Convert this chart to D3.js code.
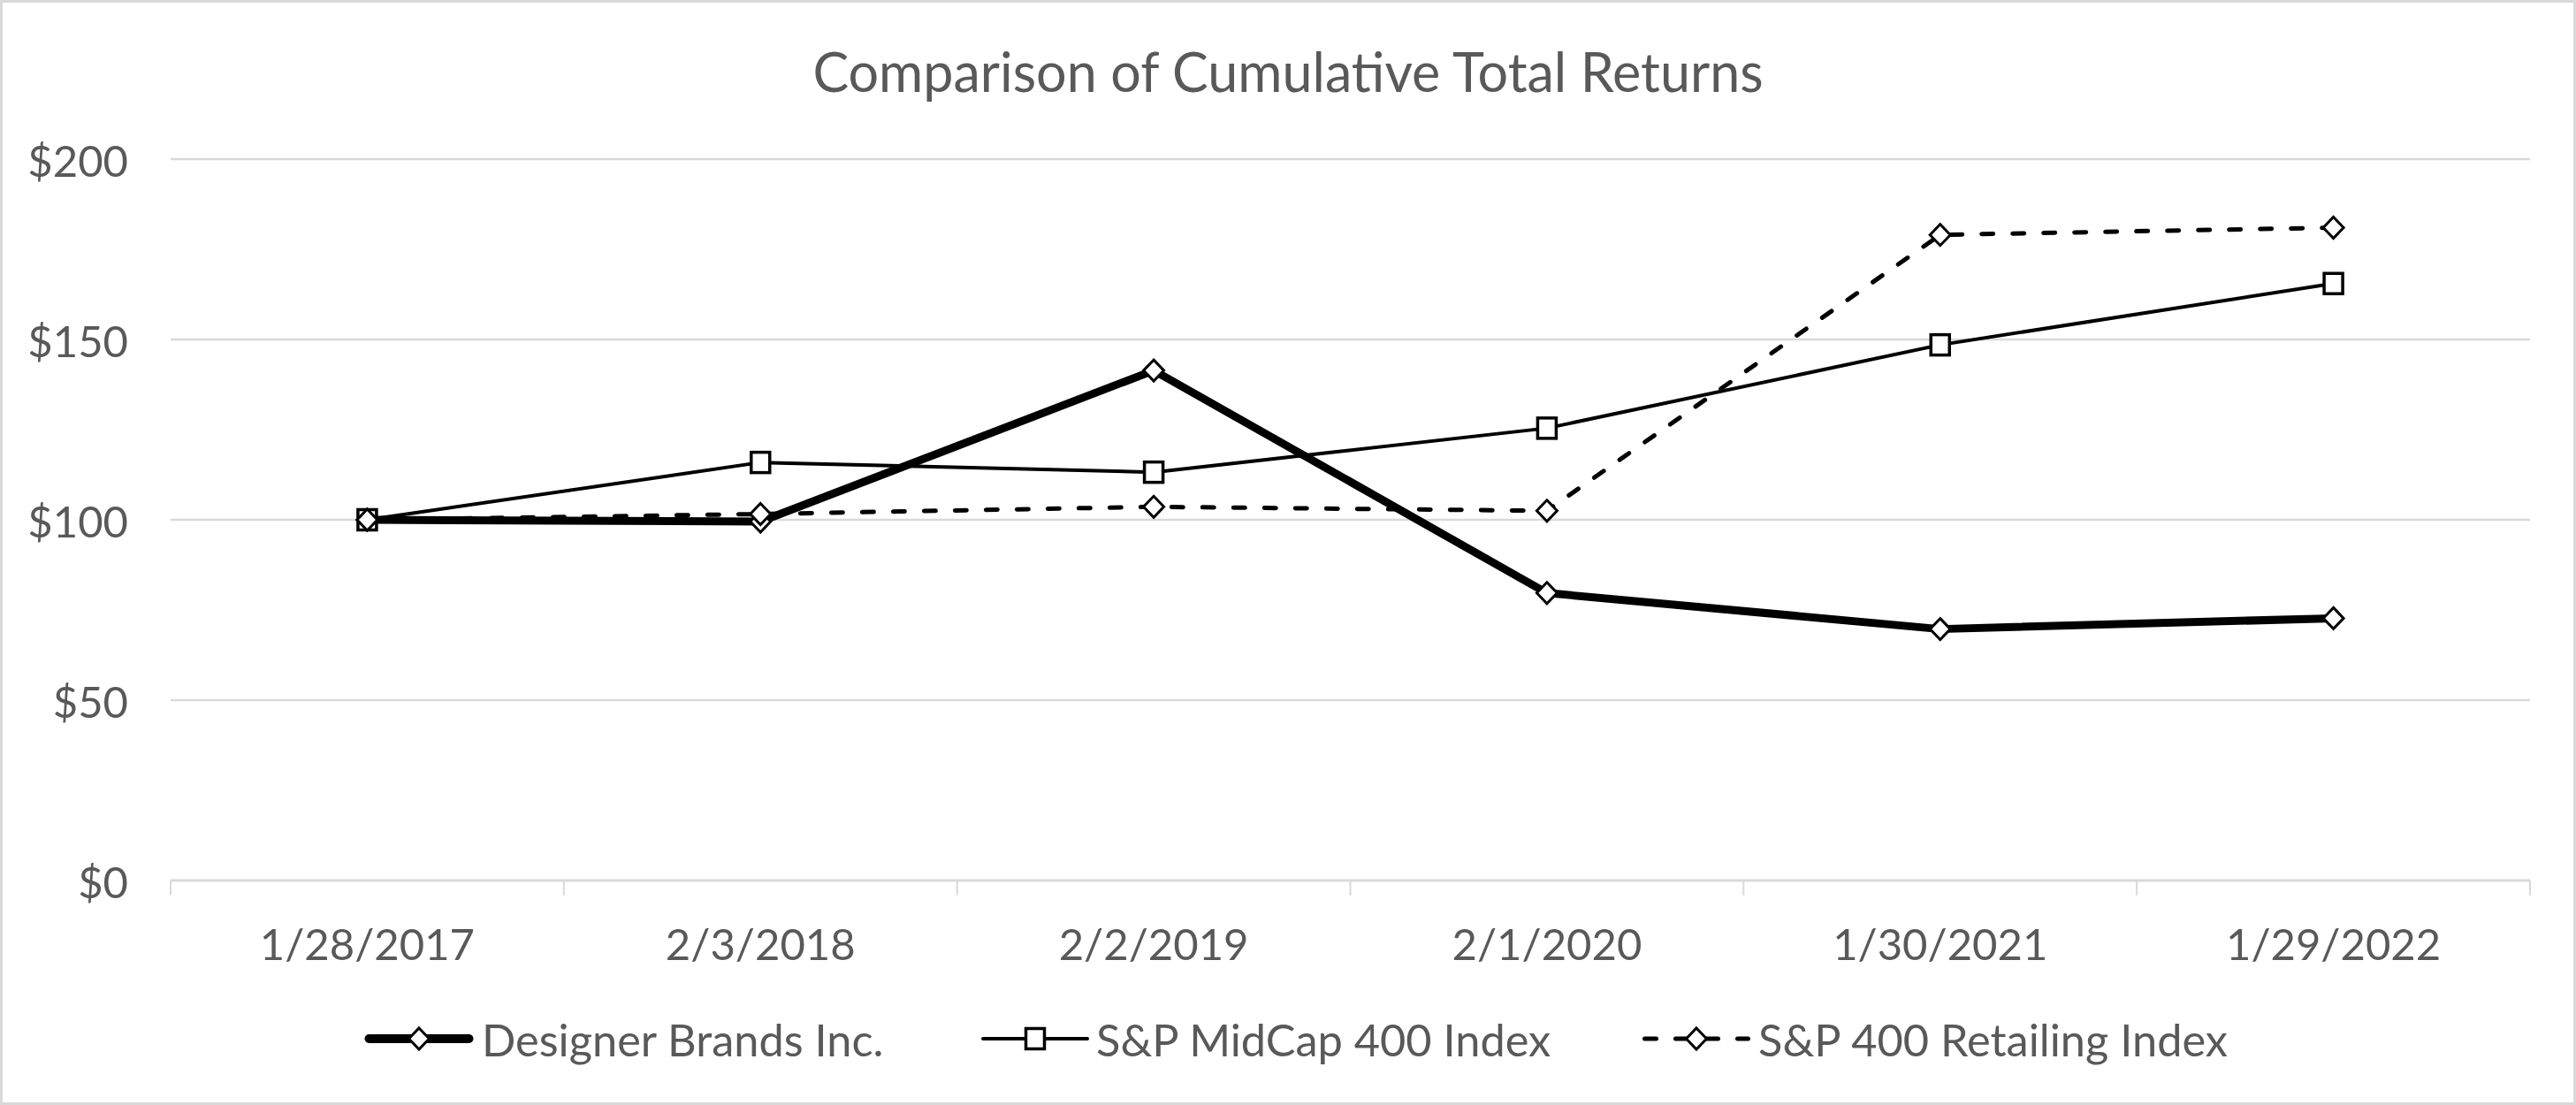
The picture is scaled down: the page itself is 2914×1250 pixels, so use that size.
<!DOCTYPE html>
<html>
<head>
<meta charset="utf-8">
<script src="https://cdn.jsdelivr.net/npm/d3@7"></script>
<style>
  html, body { margin: 0; padding: 0; background: #fff; }
  svg { display: block; }
  text { font-family: Lato, "Open Sans", sans-serif; fill: #595959; }
</style>
</head>
<body>
<svg id="chart" width="2914" height="1250"></svg>
<script>
const title = "Comparison of Cumulative Total Returns";
const categories = ["1/28/2017", "2/3/2018", "2/2/2019", "2/1/2020", "1/30/2021", "1/29/2022"];
const seriesNames = ["Designer Brands Inc.", "S&P MidCap 400 Index", "S&P 400 Retailing Index"];
const designerBrands = [100, 99.5, 141.4, 79.7, 69.7, 72.7];
const midCap400 = [100, 115.9, 113.2, 125.4, 148.5, 165.5];
const retailing400 = [100, 101.6, 103.6, 102.5, 179.0, 181.0];
const yTicks = [0, 50, 100, 150, 200];

const W = 2914, H = 1250;
const plot = { left: 193, right: 2862, top: 180, bottom: 996 };

const svg = d3.select("#chart");

// outer border
svg.append("rect")
  .attr("x", 1.5).attr("y", 1.5)
  .attr("width", W - 3).attr("height", H - 3)
  .attr("fill", "#fff").attr("stroke", "#d9d9d9").attr("stroke-width", 3);

const x = d3.scaleBand().domain(categories).range([plot.left, plot.right]).paddingInner(0).paddingOuter(0);
const y = d3.scaleLinear().domain([0, 200]).range([plot.bottom, plot.top]);
const cx = c => x(c) + x.bandwidth() / 2;

// title
svg.append("text")
  .attr("x", 1457).attr("y", 80)
  .attr("text-anchor", "middle").attr("dominant-baseline", "central")
  .style("font-size", "61px")
  .text(title);

// gridlines
svg.append("g").selectAll("line")
  .data(yTicks.filter(t => t > 0))
  .join("line")
  .attr("x1", plot.left).attr("x2", plot.right)
  .attr("y1", d => y(d)).attr("y2", d => y(d))
  .attr("stroke", "#d9d9d9").attr("stroke-width", 2.5);

// y axis labels
const yAxis = d3.axisLeft(y).tickValues(yTicks).tickFormat(d => "$" + d).tickSize(0).tickPadding(0);
const gy = svg.append("g").attr("transform", `translate(145,0)`).call(yAxis);
gy.select(".domain").remove();
gy.selectAll("text")
  .attr("fill", "#595959")
  .attr("dy", null)
  .attr("dominant-baseline", "central")
  .style("font-family", "Lato, 'Open Sans', sans-serif")
  .style("font-size", "49px");

// x axis
const xAxis = d3.axisBottom(x).tickSize(0).tickPadding(0);
const gx = svg.append("g").attr("transform", `translate(0,${plot.bottom})`).call(xAxis);
gx.select(".domain").remove();
gx.selectAll(".tick text")
  .attr("y", 71)
  .attr("dy", null)
  .attr("dominant-baseline", "central")
  .attr("fill", "#595959")
  .style("font-family", "Lato, 'Open Sans', sans-serif")
  .style("font-size", "49px");

svg.append("line")
  .attr("x1", plot.left).attr("x2", plot.right)
  .attr("y1", plot.bottom).attr("y2", plot.bottom)
  .attr("stroke", "#d9d9d9").attr("stroke-width", 3);

const boundaries = categories.map(c => x(c)).concat([x(categories[categories.length - 1]) + x.bandwidth()]);
svg.append("g").selectAll("line")
  .data(boundaries)
  .join("line")
  .attr("x1", d => d).attr("x2", d => d)
  .attr("y1", plot.bottom).attr("y2", plot.bottom + 17)
  .attr("stroke", "#d9d9d9").attr("stroke-width", 2);

// series
const series = [
  { name: seriesNames[0], values: designerBrands, width: 9, dash: null, marker: "diamond" },
  { name: seriesNames[1], values: midCap400, width: 4, dash: null, marker: "square" },
  { name: seriesNames[2], values: retailing400, width: 5, dash: "13,22", marker: "diamond" }
];

const line = d3.line().x((d, i) => cx(categories[i])).y(d => y(d));

const diamondPath = "M0,-12L11.5,0L0,12L-11.5,0Z";

function drawMarker(g, type, px, py) {
  if (type === "diamond") {
    g.append("path")
      .attr("d", diamondPath)
      .attr("transform", `translate(${px},${py})`)
      .attr("fill", "#fff").attr("stroke", "#000").attr("stroke-width", 3)
      .attr("stroke-linejoin", "miter");
  } else {
    g.append("rect")
      .attr("x", px - 10.5).attr("y", py - 11.5)
      .attr("width", 21).attr("height", 23)
      .attr("fill", "#fff").attr("stroke", "#000").attr("stroke-width", 3.5);
  }
}

const lines = svg.append("g");
series.forEach(s => {
  lines.append("path")
    .datum(s.values)
    .attr("d", line)
    .attr("fill", "none")
    .attr("stroke", "#000")
    .attr("stroke-width", s.width)
    .attr("stroke-linejoin", "round")
    .attr("stroke-linecap", "round")
    .attr("stroke-dasharray", s.dash);
});
const markers = svg.append("g");
series.forEach(s => {
  s.values.forEach((v, i) => drawMarker(markers, s.marker, cx(categories[i]), y(v)));
});

// legend
const legendY = 1175;
const legendItems = [
  { x0: 413, x1: 535, tx: 545 },
  { x0: 1110, x1: 1232, tx: 1240 },
  { x0: 1858, x1: 1980, tx: 1989 }
];
const lg = svg.append("g");
series.forEach((s, i) => {
  const it = legendItems[i];
  lg.append("line")
    .attr("x1", it.x0 + s.width / 2).attr("x2", it.x1 - s.width / 2)
    .attr("y1", legendY).attr("y2", legendY)
    .attr("stroke", "#000")
    .attr("stroke-width", s.marker === "diamond" && !s.dash ? 10 : s.width)
    .attr("stroke-linecap", "round")
    .attr("stroke-dasharray", s.dash);
  drawMarker(lg, s.marker, (it.x0 + it.x1) / 2, legendY);
  lg.append("text")
    .attr("x", it.tx).attr("y", legendY)
    .attr("dominant-baseline", "central")
    .style("font-size", "50.5px")
    .text(s.name);
});
</script>
</body>
</html>
